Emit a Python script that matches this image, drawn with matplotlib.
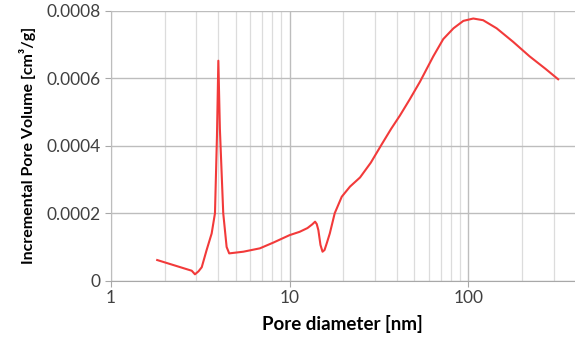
import matplotlib.pyplot as plt
from matplotlib.ticker import FixedLocator, FixedFormatter

# pore size distribution
diameter = [1.82, 2.84, 2.96, 3.1, 3.23, 3.44, 3.67, 3.83, 3.93, 4.0, 4.08,
            4.26, 4.45, 4.6, 5.52, 6.83, 8.12, 10.0, 11.4, 12.6, 13.4, 13.9,
            14.2, 14.5, 14.9, 15.3, 15.7, 16.2, 16.8, 17.9, 19.6, 21.8, 24.8,
            28.5, 32.6, 37.0, 41.5, 47.1, 53.7, 63.7, 72.4, 82.6, 93.8, 106.6,
            121.0, 144.0, 178.0, 220.0, 270.0, 318.0]
volume = [0.0000613, 0.0000296, 0.000019, 0.000028, 0.00004, 0.000091,
          0.00014, 0.0002, 0.00043, 0.000652, 0.00045, 0.0002, 0.0001,
          0.000081, 0.000086, 0.000096, 0.000113, 0.000135, 0.000145,
          0.000156, 0.000167, 0.000175, 0.000168, 0.00015, 0.000106,
          0.000086, 0.000091, 0.000113, 0.00014, 0.0002, 0.000249, 0.000279,
          0.000306, 0.00035, 0.000402, 0.00045, 0.00049, 0.000538, 0.00059,
          0.000665, 0.000716, 0.000748, 0.00077, 0.000777, 0.000772, 0.000748,
          0.000708, 0.000665, 0.000628, 0.000597]

y_ticks = [0, 0.0002, 0.0004, 0.0006, 0.0008]
y_labels = ["0", "0.0002", "0.0004", "0.0006", "0.0008"]
x_ticks = [1, 10, 100]
x_labels = ["1", "10", "100"]

plt.rcParams['font.family'] = ['Lato', 'DejaVu Sans']

fig = plt.figure(figsize=(5.75, 3.47), dpi=100)
ax = fig.add_axes([0.1925, 0.191, 0.8075, 0.778])

ax.plot(diameter, volume, color='#f23a3a', lw=1.5, zorder=3,
        solid_joinstyle='round')

ax.set_xscale('log')
ax.set_xlim(1, 395)
ax.set_ylim(0, 0.0008)

ax.xaxis.set_major_locator(FixedLocator(x_ticks))
ax.xaxis.set_major_formatter(FixedFormatter(x_labels))
ax.xaxis.set_minor_locator(FixedLocator([m * 10**e for e in range(0, 3) for m in range(2, 10)]))
ax.xaxis.set_minor_formatter(FixedFormatter([]))
ax.yaxis.set_major_locator(FixedLocator(y_ticks))
ax.yaxis.set_major_formatter(FixedFormatter(y_labels))

ax.grid(True, which='major', axis='both', color='#bdbdbd', lw=1.0)
ax.grid(True, which='minor', axis='x', color='#dcdcdc', lw=0.9)

for s in ['top', 'right']:
    ax.spines[s].set_visible(False)
ax.spines['left'].set_color('#bdbdbd')
ax.spines['bottom'].set_color('#a8a8a8')

ax.tick_params(axis='x', which='major', length=4, color='#a8a8a8', labelsize=12.5,
               labelcolor='#404040', pad=3)
ax.tick_params(axis='x', which='minor', length=0)
ax.tick_params(axis='y', length=4, color='#a8a8a8', labelsize=12.5,
               labelcolor='#404040', pad=3)

ax.set_xlabel('Pore diameter [nm]', fontsize=13.5, fontweight='bold', labelpad=6)
ax.set_ylabel('Incremental Pore Volume [cm³/g]', fontsize=11.5, fontweight='bold', labelpad=8)

fig.savefig('out.png', dpi=100)
